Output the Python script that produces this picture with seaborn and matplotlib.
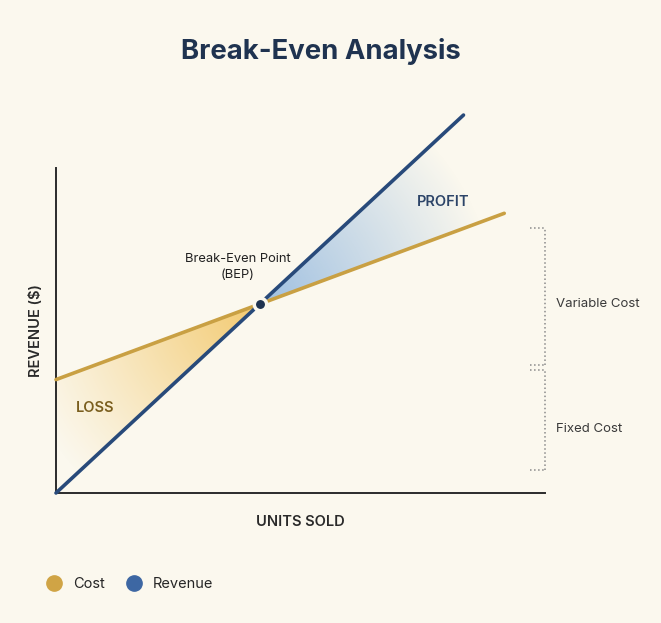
import numpy as np
import pandas as pd
import matplotlib.pyplot as plt
import seaborn as sns
from matplotlib.patches import Polygon
from matplotlib.lines import Line2D

# Break-even model values
price = 10
fixed_cost = 300
var_cost = 4
revenue_units = [0, 50, 100]
cost_units = [0, 50, 110]
bep_units = 50

revenue = [u * price for u in revenue_units]
cost = [fixed_cost + u * var_cost for u in cost_units]
bep_value = bep_units * price

bg = '#FBF8EE'
navy = '#284A7A'
gold = '#C9A043'
dark = '#1F3350'

sns.set_theme(style='white')
plt.rcParams['font.family'] = ['Inter', 'DejaVu Sans']

fig = plt.figure(figsize=(6.61, 6.23), dpi=100, facecolor=bg)
ax = fig.add_axes([0.0847, 0.2087, 0.7398, 0.5217])
ax.set_facecolor(bg)

df_rev = pd.DataFrame({'units': revenue_units, 'value': revenue})
df_cost = pd.DataFrame({'units': cost_units, 'value': cost})

# gradient fills, fading with distance (in pixels) from the break-even point
xlim = (0, 120)
ylim = (0, 860)
gx, gy = np.meshgrid(np.linspace(0, 120, 480), np.linspace(0, 1100, 440))
dist = np.hypot((gx - bep_units) * 4.075, (gy - bep_value) * 0.378)

loss_rgba = np.zeros(gx.shape + (4,))
loss_rgba[..., :3] = np.array([0.95, 0.77, 0.38])
loss_rgba[..., 3] = np.clip(1 - dist / 250, 0, 1) ** 1.1 * 0.9
im1 = ax.imshow(loss_rgba, extent=[0, 120, 0, 1100],
                aspect='auto', origin='lower', zorder=1)
loss_poly = Polygon([(0, fixed_cost), (bep_units, bep_value), (0, 0)],
                    transform=ax.transData, facecolor='none', edgecolor='none')
ax.add_patch(loss_poly)
im1.set_clip_path(loss_poly)

prof_rgba = np.zeros(gx.shape + (4,))
prof_rgba[..., :3] = np.array([0.60, 0.74, 0.88])
prof_rgba[..., 3] = np.clip(1 - dist / 235, 0, 1) ** 1.0 * 0.95
im2 = ax.imshow(prof_rgba, extent=[0, 120, 0, 1100],
                aspect='auto', origin='lower', zorder=1)
prof_poly = Polygon([(bep_units, bep_value), (100, 1000), (115, 1000),
                     (110, fixed_cost + 110 * var_cost)],
                    transform=ax.transData, facecolor='none', edgecolor='none')
ax.add_patch(prof_poly)
im2.set_clip_path(prof_poly)
im2.set_clip_box(fig.bbox)
im1.set_clip_box(fig.bbox)

sns.lineplot(data=df_cost, x='units', y='value', color=gold, linewidth=2.6,
             ax=ax, zorder=3)
sns.lineplot(data=df_rev, x='units', y='value', color=navy, linewidth=2.6,
             ax=ax, zorder=4)
for ln in ax.lines:
    ln.set_clip_on(False)
    ln.set_solid_capstyle('round')

ax.scatter([bep_units], [bep_value], s=80, color=dark, edgecolor=bg,
           linewidth=2.5, zorder=6, clip_on=False)

ax.set_xlim(*xlim)
ax.set_ylim(*ylim)
ax.set_xticks([])
ax.set_yticks([])
sns.despine(ax=ax)
for s in ['left', 'bottom']:
    ax.spines[s].set_color('#2B2B2B')
    ax.spines[s].set_linewidth(1.4)

ax.set_xlabel('UNITS SOLD', fontsize=10.5, fontweight='semibold', color='#2A2A2A',
              labelpad=16)
ax.set_ylabel('REVENUE ($)', fontsize=10.5, fontweight='semibold', color='#2A2A2A',
              labelpad=9)

# region labels
ax.text(95, 770, 'PROFIT', fontsize=10.5, fontweight='semibold', color='#2C4468',
        ha='center', va='center', zorder=7)
ax.text(9.5, 225, 'LOSS', fontsize=10.5, fontweight='semibold', color='#7A5E1E',
        ha='center', va='center', zorder=7)
ax.text(44.5, 598, 'Break-Even Point\n(BEP)', fontsize=9.3, color='#222222',
        ha='center', va='center', linespacing=1.45, zorder=7)

# cost brackets
bx = 120
for y0, y1 in [(62, 325), (339, 700)]:
    ax.plot([bx, bx], [y0, y1], color='#8A8A8A', lw=1.1, ls=':', clip_on=False)
    for yy in (y0, y1):
        ax.plot([bx - 3.7, bx], [yy, yy], color='#8A8A8A', lw=1.1, ls=':',
                clip_on=False)
ax.text(122.7, 500, 'Variable Cost', fontsize=9.5, color='#3A3A3A',
        va='center', ha='left', clip_on=False)
ax.text(122.7, 168, 'Fixed Cost', fontsize=9.5, color='#3A3A3A',
        va='center', ha='left', clip_on=False)

fig.text(0.485, 0.918, 'Break-Even Analysis', fontsize=19.8, fontweight='bold',
         color=dark, ha='center', va='center')

handles = [Line2D([], [], marker='o', ls='', markersize=11, color='#D0A445'),
           Line2D([], [], marker='o', ls='', markersize=11, color='#3D67A3')]
fig.legend(handles, ['Cost', 'Revenue'], loc='center left',
           bbox_to_anchor=(0.04, 0.062), ncol=2, frameon=False,
           fontsize=10.5, handletextpad=0.3, columnspacing=1.0)

fig.savefig('out.png', dpi=100, facecolor=bg)
